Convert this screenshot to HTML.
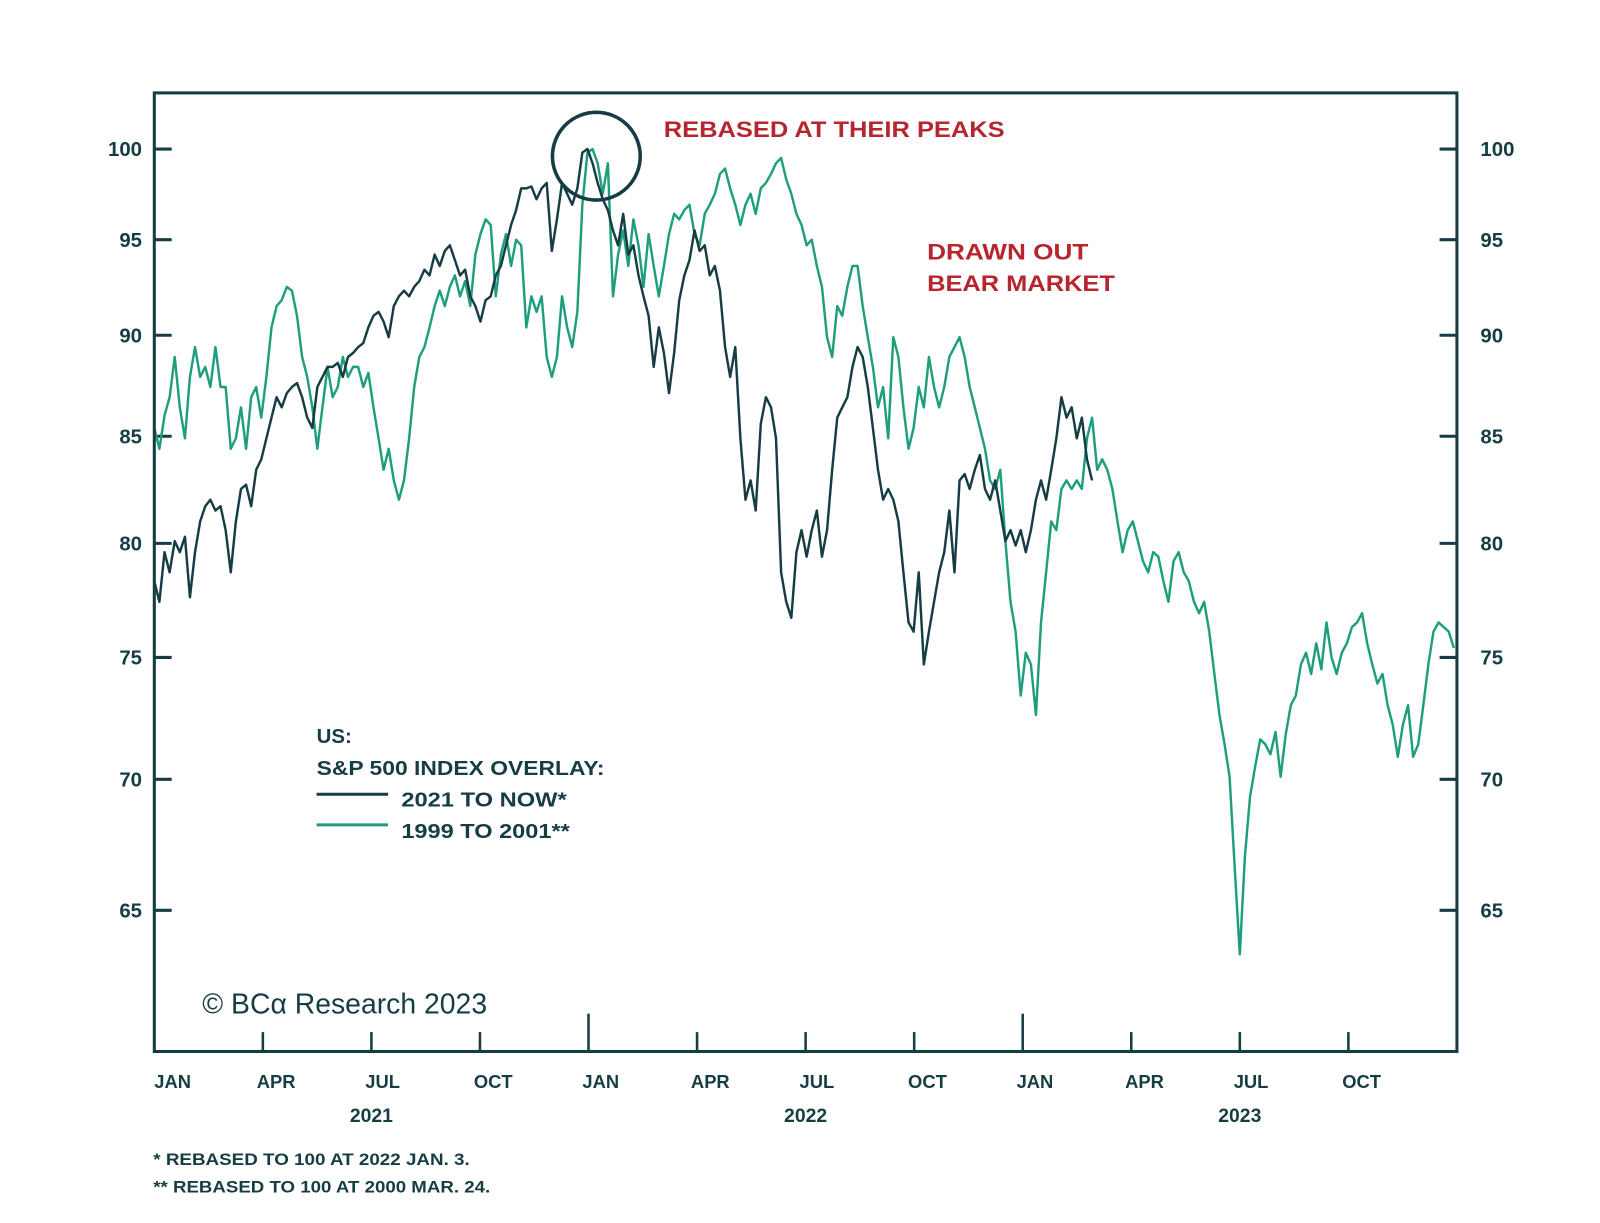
<!DOCTYPE html>
<html><head><meta charset="utf-8"><style>
html,body{margin:0;padding:0;background:#fff;}
svg{display:block;}
text{font-family:"Liberation Sans",sans-serif;}
</style></head><body>
<svg id="chart" width="1600" height="1223" viewBox="0 0 1567 1198" xmlns="http://www.w3.org/2000/svg">
<rect x="0" y="0" width="1567" height="1198" fill="#fff"/>
<g id="grid"></g>
<g id="series"></g>
<rect x="151" y="91" width="1276" height="939" fill="none" stroke="#163d44" stroke-width="3"/>
<circle cx="584" cy="153" r="43" fill="none" stroke="#163d44" stroke-width="3.5"/>
<text x="650" y="134" font-size="22" font-weight="bold" fill="#b5262e" textLength="334" lengthAdjust="spacingAndGlyphs">REBASED AT THEIR PEAKS</text>
<text x="908" y="254" font-size="22" font-weight="bold" fill="#b5262e" textLength="158" lengthAdjust="spacingAndGlyphs">DRAWN OUT</text>
<text x="908" y="285" font-size="22" font-weight="bold" fill="#b5262e" textLength="184" lengthAdjust="spacingAndGlyphs">BEAR MARKET</text>
<g>
<text x="310" y="728" font-size="20" font-weight="bold" fill="#163d44">US:</text>
<text x="310" y="759" font-size="20" font-weight="bold" fill="#163d44" textLength="282" lengthAdjust="spacingAndGlyphs">S&amp;P 500 INDEX OVERLAY:</text>
<line x1="310" y1="778" x2="380" y2="778" stroke="#163d44" stroke-width="3"/>
<text x="393" y="790" font-size="20" font-weight="bold" fill="#163d44" textLength="162" lengthAdjust="spacingAndGlyphs">2021 TO NOW*</text>
<line x1="310" y1="808" x2="380" y2="808" stroke="#1f9e7e" stroke-width="3"/>
<text x="393" y="821" font-size="20" font-weight="bold" fill="#163d44" textLength="165" lengthAdjust="spacingAndGlyphs">1999 TO 2001**</text>
</g>
<text x="198" y="993" font-family="Liberation Serif,serif" font-size="28" fill="#163d44" textLength="279" lengthAdjust="spacingAndGlyphs">© BCα Research 2023</text>
<text x="150" y="1141" font-size="16" font-weight="bold" fill="#163d44" textLength="310" lengthAdjust="spacingAndGlyphs">*  REBASED TO 100 AT 2022 JAN. 3.</text>
<text x="150" y="1168" font-size="16" font-weight="bold" fill="#163d44" textLength="330" lengthAdjust="spacingAndGlyphs">** REBASED TO 100 AT 2000 MAR. 24.</text>
</svg>
<script>
const yTicks = [100, 95, 90, 85, 80, 75, 70, 65];
const monthLabels = ["JAN","APR","JUL","OCT","JAN","APR","JUL","OCT","JAN","APR","JUL","OCT"];
const yearLabels = ["2021","2022","2023"];
const sampleStepMonths = 5/35.5;
const series2021 = [78.3,77.4,79.6,78.7,80.1,79.6,80.3,77.6,79.6,81.0,81.7,82.0,81.5,81.7,80.6,78.7,81.0,82.5,82.7,81.7,83.4,83.9,84.9,85.9,86.9,86.4,87.1,87.4,87.6,86.9,85.9,85.4,87.4,87.9,88.4,88.4,88.6,87.9,88.9,89.1,89.4,89.6,90.4,91.0,91.2,90.7,89.9,91.5,92.0,92.3,92.0,92.5,92.8,93.4,93.1,94.2,93.6,94.4,94.7,93.9,93.1,93.4,92.0,91.5,90.7,91.8,92.0,93.1,93.6,94.7,95.8,96.6,97.8,97.8,97.9,97.2,97.8,98.1,94.4,96.1,98.1,97.5,96.9,97.8,99.8,100,99.2,98.1,97.2,96.6,95.5,94.7,96.4,94.2,94.7,93.1,92.0,91.0,88.4,90.4,89.1,87.1,89.1,91.8,93.1,93.9,95.5,94.4,94.7,93.1,93.6,92.3,89.4,87.9,89.4,84.9,82.0,82.9,81.5,85.6,86.9,86.4,84.9,78.7,77.4,76.7,79.6,80.6,79.4,80.6,81.5,79.4,80.6,83.4,85.9,86.4,86.9,88.4,89.4,88.9,87.4,85.4,83.4,82.0,82.5,82.0,81.0,78.7,76.5,76.1,78.7,74.7,76.1,77.4,78.7,79.6,81.5,78.7,82.9,83.2,82.5,83.4,84.1,82.5,82.0,82.9,81.5,80.1,80.6,79.9,80.6,79.6,80.6,82.0,82.9,82.0,83.4,84.9,86.9,85.9,86.4,84.9,85.9,83.9,82.9];
const series1999 = [85.4,84.4,86.0,86.9,88.9,86.4,84.9,87.9,89.4,87.9,88.4,87.4,89.4,87.4,87.4,84.4,84.9,86.4,84.4,86.9,87.4,85.9,87.9,90.4,91.5,91.8,92.5,92.3,91.0,88.9,87.9,86.4,84.4,86.4,88.4,86.9,87.4,88.9,87.9,88.4,88.4,87.4,88.1,86.4,84.9,83.4,84.4,82.9,82.0,82.9,84.9,87.4,88.9,89.4,90.4,91.5,92.3,91.5,92.5,93.1,92.0,92.8,91.5,94.2,95.3,96.1,95.8,92.0,94.2,95.3,93.6,95.0,94.7,90.4,92.0,91.2,92.0,88.9,87.9,88.9,92.0,90.4,89.4,91.2,96.9,99.8,100,99.2,97.5,99.2,92.0,94.2,95.5,93.6,96.1,94.7,92.5,95.3,93.6,92.0,93.6,95.3,96.4,96.1,96.6,96.9,95.3,94.7,96.4,96.9,97.5,98.6,98.9,97.8,96.9,95.8,96.9,97.5,96.4,97.8,98.1,98.6,99.2,99.5,98.3,97.5,96.4,95.8,94.7,95.0,93.6,92.5,89.9,88.9,91.5,91.0,92.5,93.6,93.6,91.5,89.9,88.4,86.4,87.4,84.9,89.9,88.9,86.4,84.4,85.4,87.4,86.4,88.9,87.4,86.4,87.4,88.9,89.4,89.9,88.9,87.4,86.4,85.4,84.4,82.9,82.5,83.4,80.1,77.4,76.1,73.4,75.2,74.7,72.6,76.5,78.7,81.0,80.6,82.5,82.9,82.5,82.9,82.5,84.9,85.9,83.4,83.9,83.4,82.5,81.0,79.6,80.6,81.0,80.1,79.2,78.7,79.6,79.4,78.3,77.4,79.2,79.6,78.7,78.3,77.4,76.9,77.4,76.1,74.3,72.6,71.4,70.1,66.6,63.4,67.0,69.3,70.5,71.6,71.4,71.0,71.9,70.1,71.8,73.0,73.4,74.7,75.2,74.3,75.6,74.5,76.5,75.0,74.3,75.2,75.6,76.3,76.5,76.9,75.6,74.7,73.9,74.3,73.0,72.2,70.9,72.2,73.0,70.9,71.4,73.0,74.7,76.1,76.5,76.3,76.1,75.4];

const X0 = 151, X1 = 1427, MONTHS = 36;
const Y100 = 146, PXLOG = 1731;
function xScale(m){ return X0 + (X1 - X0) * m / MONTHS; }
function yScale(v){ return Y100 - PXLOG * Math.log(v / 100); }
const NS = "http://www.w3.org/2000/svg";
const grid = document.getElementById("grid");
const ser = document.getElementById("series");
function mk(tag, attrs, parent){ const e = document.createElementNS(NS, tag); for (const k in attrs) e.setAttribute(k, attrs[k]); parent.appendChild(e); return e; }

yTicks.forEach(function(v){
  const y = yScale(v);
  const tl = mk("line", {x1:151, x2:168, y1:y, y2:y, stroke:"#163d44", "stroke-width":3}, grid);
  
  
  const tr = mk("line", {x1:1410, x2:1427, y1:y, y2:y, stroke:"#163d44", "stroke-width":3}, grid);
  
  
  const a = mk("text", {x:139, y:y+7, "text-anchor":"end", "font-size":20, "font-weight":"bold", fill:"#163d44"}, grid);
  a.textContent = v;
  
  
  const b = mk("text", {x:1450, y:y+7, "font-size":20, "font-weight":"bold", fill:"#163d44"}, grid);
  b.textContent = v;
  
  
});

monthLabels.forEach(function(lab, i){
  const x = xScale(i * 3);
  if (i > 0) {
    const isJan = (i % 4 === 0);
    const t = mk("line", {x1:x, x2:x, y1:1030, y2: isJan ? 993 : 1011, stroke:"#163d44", "stroke-width":2.5}, grid);
    
    
  }
  const tx = mk("text", {x: i === 0 ? x : x - 6, y:1066, "font-size":18, "font-weight":"bold", fill:"#163d44"}, grid);
  tx.textContent = lab;
  
  
});
yearLabels.forEach(function(yr, i){
  const tx = mk("text", {x: xScale(i * 12 + 6), y:1099, "text-anchor":"middle", "font-size":19, "font-weight":"bold", fill:"#163d44"}, grid);
  tx.textContent = yr;
  
  
});

function pathFor(vals){
  return vals.map(function(v, i){ return (i ? "L" : "M") + xScale(i * sampleStepMonths).toFixed(1) + "," + yScale(v).toFixed(1); }).join("");
}
const g = mk("path", {d: pathFor(series1999), fill:"none", stroke:"#1f9e7e", "stroke-width":2.4, "stroke-linejoin":"round"}, ser);


const d = mk("path", {d: pathFor(series2021), fill:"none", stroke:"#163d44", "stroke-width":2.4, "stroke-linejoin":"round"}, ser);


</script>
</body></html>
